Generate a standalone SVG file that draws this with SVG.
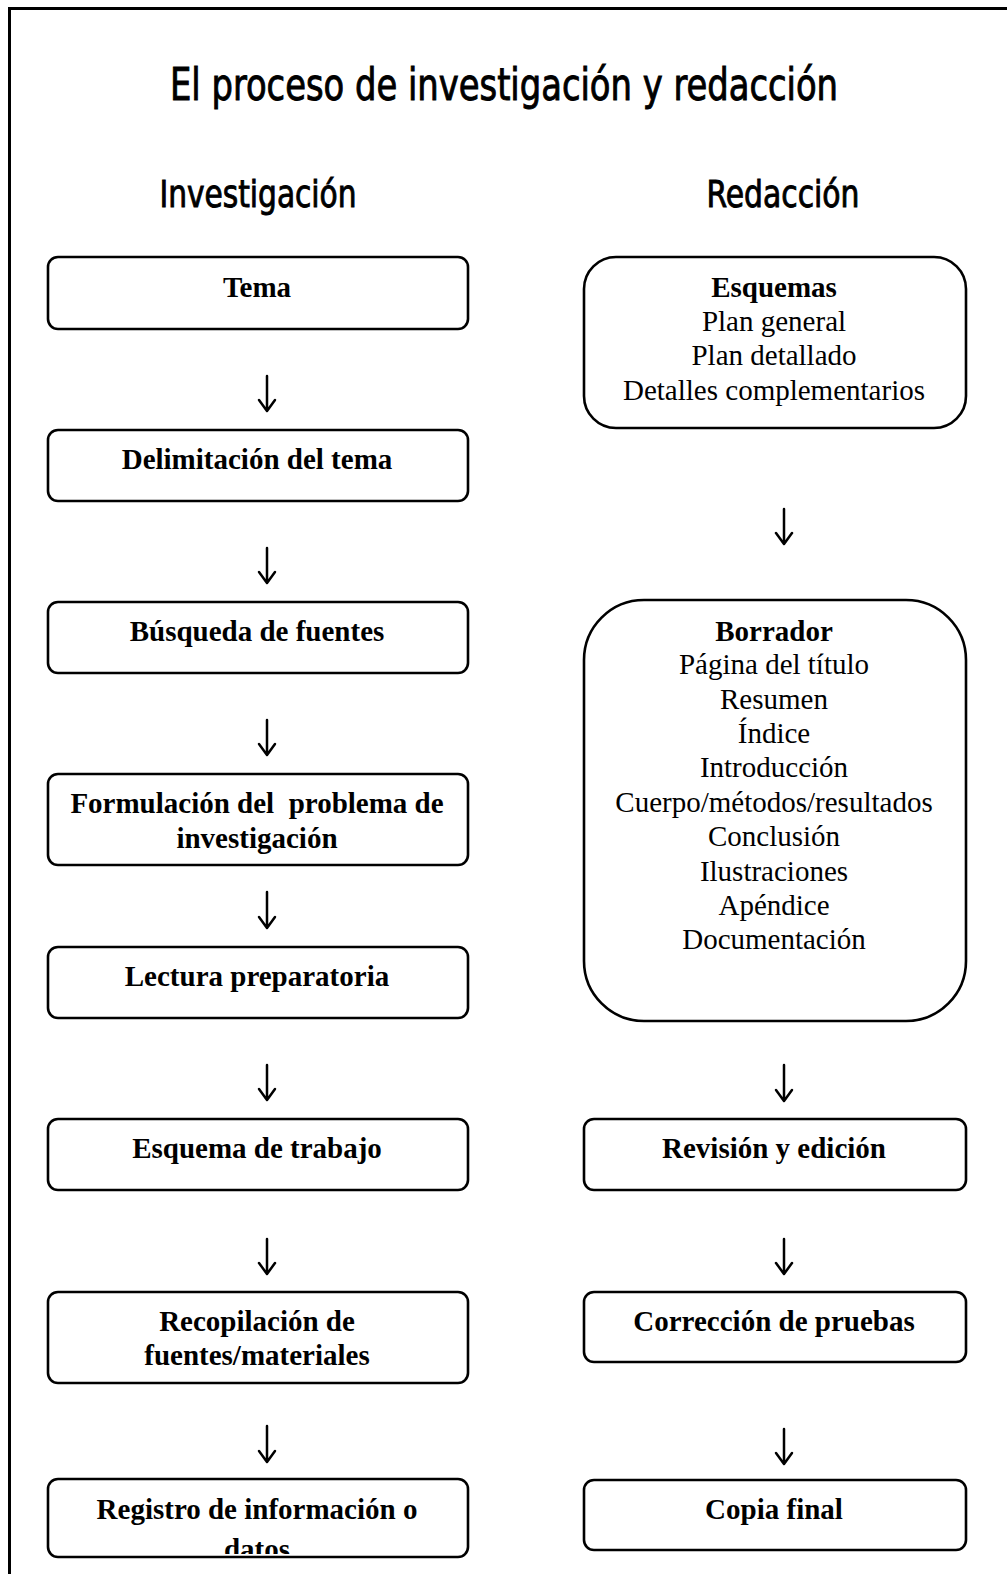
<svg xmlns="http://www.w3.org/2000/svg" width="1007" height="1574" viewBox="0 0 1007 1574">
<style>
.box{fill:#fff;stroke:#000;stroke-width:2.6}
.t{font-family:"Liberation Serif","Times New Roman",serif;font-size:29px;text-anchor:middle;fill:#000}
.b{font-weight:bold}
.h{font-family:"DejaVu Sans Condensed","Liberation Sans",sans-serif;fill:#000;stroke:#000;stroke-width:0.9}
.arr{fill:none;stroke:#000;stroke-width:2.5;stroke-linecap:round;stroke-linejoin:round}
</style>
<defs>
<clipPath id="clipReg"><rect x="50" y="1481" width="416" height="73"/></clipPath>
</defs>
<rect width="1007" height="1574" fill="#fff"/>
<g id="frame">
<line x1="8" y1="8.5" x2="1007" y2="8.5" stroke="#000" stroke-width="3"/>
<line x1="9.5" y1="7" x2="9.5" y2="1574" stroke="#000" stroke-width="3"/>
</g>
<g id="titles">
<text class="h" x="504" y="100" font-size="44" text-anchor="middle" textLength="668" lengthAdjust="spacingAndGlyphs">El proceso de investigación y redacción</text>
<text class="h" x="258" y="207" font-size="38" text-anchor="middle" textLength="197" lengthAdjust="spacingAndGlyphs">Investigación</text>
<text class="h" x="783" y="207" font-size="38" text-anchor="middle" textLength="153" lengthAdjust="spacingAndGlyphs">Redacción</text>
</g>
<g id="connectors">
<path class="arr" d="M267 376V410M259 400L267 411L275 400"/>
<path class="arr" d="M267 548V582M259 572L267 583L275 572"/>
<path class="arr" d="M267 720V754M259 744L267 755L275 744"/>
<path class="arr" d="M267 892V927M259 917L267 928L275 917"/>
<path class="arr" d="M267 1065V1099M259 1089L267 1100L275 1089"/>
<path class="arr" d="M267 1239V1273M259 1263L267 1274L275 1263"/>
<path class="arr" d="M267 1426V1461M259 1451L267 1462L275 1451"/>
<path class="arr" d="M784 509V543M776 533L784 544L792 533"/>
<path class="arr" d="M784 1065V1100M776 1090L784 1101L792 1090"/>
<path class="arr" d="M784 1239V1273M776 1263L784 1274L792 1263"/>
<path class="arr" d="M784 1429V1463M776 1453L784 1464L792 1453"/>
</g>
<g id="tema">
<rect class="box" x="48" y="257" width="420" height="72" rx="10"/>
<text class="t b" x="257" y="297">Tema</text>
</g>
<g id="delimitacion">
<rect class="box" x="48" y="430" width="420" height="71" rx="10"/>
<text class="t b" x="257" y="469">Delimitación del tema</text>
</g>
<g id="busqueda">
<rect class="box" x="48" y="602" width="420" height="71" rx="10"/>
<text class="t b" x="257" y="641">Búsqueda de fuentes</text>
</g>
<g id="formulacion">
<rect class="box" x="48" y="774" width="420" height="91" rx="10"/>
<text class="t b" x="257" y="813" xml:space="preserve">Formulación del  problema de</text>
<text class="t b" x="257" y="848">investigación</text>
</g>
<g id="lectura">
<rect class="box" x="48" y="947" width="420" height="71" rx="10"/>
<text class="t b" x="257" y="986">Lectura preparatoria</text>
</g>
<g id="esquema-trabajo">
<rect class="box" x="48" y="1119" width="420" height="71" rx="10"/>
<text class="t b" x="257" y="1158">Esquema de trabajo</text>
</g>
<g id="recopilacion">
<rect class="box" x="48" y="1292" width="420" height="91" rx="10"/>
<text class="t b" x="257" y="1331">Recopilación de</text>
<text class="t b" x="257" y="1365">fuentes/materiales</text>
</g>
<g id="registro">
<rect class="box" x="48" y="1479" width="420" height="78" rx="10"/>
<g clip-path="url(#clipReg)">
<text class="t b" x="257" y="1519">Registro de información o</text>
<text class="t b" x="257" y="1559">datos</text>
</g>
</g>
<g id="esquemas">
<rect class="box" x="584" y="257" width="382" height="171" rx="32"/>
<text class="t b" x="774" y="297">Esquemas</text>
<text class="t" x="774" y="331">Plan general</text>
<text class="t" x="774" y="365">Plan detallado</text>
<text class="t" x="774" y="400">Detalles complementarios</text>
</g>
<g id="borrador">
<rect class="box" x="584" y="600" width="382" height="421" rx="60"/>
<text class="t b" x="774" y="641">Borrador</text>
<text class="t" x="774" y="674">Página del título</text>
<text class="t" x="774" y="709">Resumen</text>
<text class="t" x="774" y="743">Índice</text>
<text class="t" x="774" y="777">Introducción</text>
<text class="t" x="774" y="812">Cuerpo/métodos/resultados</text>
<text class="t" x="774" y="846">Conclusión</text>
<text class="t" x="774" y="881">Ilustraciones</text>
<text class="t" x="774" y="915">Apéndice</text>
<text class="t" x="774" y="949">Documentación</text>
</g>
<g id="revision">
<rect class="box" x="584" y="1119" width="382" height="71" rx="10"/>
<text class="t b" x="774" y="1158">Revisión y edición</text>
</g>
<g id="correccion">
<rect class="box" x="584" y="1292" width="382" height="70" rx="10"/>
<text class="t b" x="774" y="1331">Corrección de pruebas</text>
</g>
<g id="copia">
<rect class="box" x="584" y="1480" width="382" height="70" rx="10"/>
<text class="t b" x="774" y="1519">Copia final</text>
</g>
</svg>
